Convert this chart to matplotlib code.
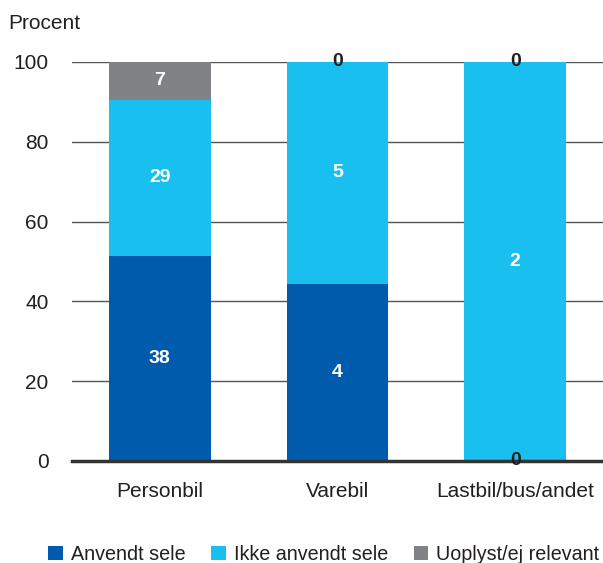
import matplotlib
matplotlib.use("Agg")
import matplotlib.pyplot as plt
from matplotlib.patches import Patch
import numpy as np

plt.rcParams['font.family'] = ['Liberation Sans', 'DejaVu Sans']

categories = ["Personbil", "Varebil", "Lastbil/bus/andet"]
series_names = ["Anvendt sele", "Ikke anvendt sele", "Uoplyst/ej relevant"]
anvendt = [38, 4, 0]
ikke_anvendt = [29, 5, 2]
uoplyst = [7, 0, 0]
y_ticks = [0, 20, 40, 60, 80, 100]

colors = ["#005BAC", "#19BFEF", "#808285"]
text_dark = "#231F20"

counts = np.array([anvendt, ikke_anvendt, uoplyst], dtype=float)
totals = counts.sum(axis=0)
shares = counts / totals * 100

fig = plt.figure(figsize=(6.03, 5.63), dpi=100)
ax = fig.add_axes([0.1194, 0.1812, 0.8806, 0.7087])

x = np.arange(len(categories))
width = 0.573
bottom = np.zeros(len(categories))
for i, (name, col) in enumerate(zip(series_names, colors)):
    ax.bar(x, shares[i], width, bottom=bottom, color=col, zorder=2,
           linewidth=0, label=name)
    for j in range(len(categories)):
        val = int(counts[i, j])
        center = bottom[j] + shares[i, j] / 2
        tcol = text_dark if val == 0 else "white"
        ax.text(x[j], center, str(val), ha="center", va="center",
                color=tcol, fontsize=14, fontweight="bold", zorder=5)
    bottom = bottom + shares[i]

ax.set_xlim(-0.494, 2.494)
ax.set_ylim(0, 100)
ax.set_yticks(y_ticks)
ax.set_xticks(x)
ax.set_xticklabels(categories)
for g in y_ticks[1:]:
    ax.axhline(g, color="#555557", linewidth=1.0, zorder=1)
ax.axhline(0, color="#333333", linewidth=2.5, zorder=4, clip_on=False)

for s in ax.spines.values():
    s.set_visible(False)
ax.tick_params(axis="both", length=0, labelsize=15, colors=text_dark)
ax.tick_params(axis="y", pad=17)
ax.tick_params(axis="x", pad=15)

fig.text(0.013, 0.958, "Procent", fontsize=15, color=text_dark,
         ha="left", va="center")

handles = [Patch(facecolor=c, edgecolor="none") for c in colors]
fig.legend(handles, series_names, loc="center", ncol=3,
           bbox_to_anchor=(0.537, 0.015), frameon=False, fontsize=14.2,
           handlelength=0.75, handleheight=0.75, handletextpad=0.4,
           columnspacing=1.3, labelcolor=text_dark, borderaxespad=0)

fig.savefig("out.png", dpi=100)
